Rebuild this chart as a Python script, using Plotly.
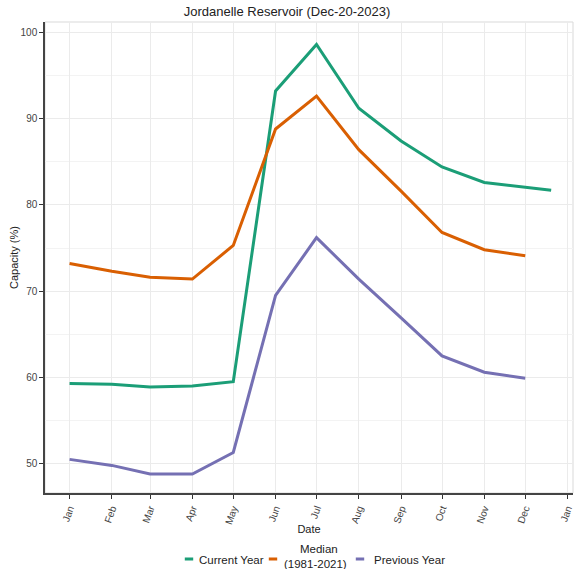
import plotly.graph_objects as go

title = "Jordanelle Reservoir (Dec-20-2023)"

current_dates = ["2023-01-01", "2023-02-01", "2023-03-01", "2023-04-01", "2023-05-01", "2023-06-01",
                 "2023-07-01", "2023-08-01", "2023-09-01", "2023-10-01", "2023-11-01", "2023-12-01",
                 "2023-12-20"]
current_vals = [59.3, 59.2, 58.9, 59.0, 59.5, 93.2, 98.6, 91.2, 87.4, 84.4, 82.6, 82.1, 81.7]

month_dates = ["2023-01-01", "2023-02-01", "2023-03-01", "2023-04-01", "2023-05-01", "2023-06-01",
               "2023-07-01", "2023-08-01", "2023-09-01", "2023-10-01", "2023-11-01", "2023-12-01"]
median_vals = [73.2, 72.3, 71.6, 71.4, 75.3, 88.8, 92.6, 86.4, 81.6, 76.8, 74.8, 74.1]
previous_vals = [50.5, 49.8, 48.8, 48.8, 51.3, 69.5, 76.2, 71.4, 66.9, 62.5, 60.6, 59.9]

names = ["Current Year", "&nbsp;&nbsp;&nbsp;&nbsp;&nbsp;Median<br>(1981-2021)", "Previous Year"]
colors = ["#1B9E77", "#D95F02", "#7570B3"]

# plot area in page pixels: x 45..573, y 22..493
L, R, T, B = 45, 573, 22, 493
def px_x(p):
    return (p - L) / (R - L)
def px_y(p):
    return (B - p) / (B - T)

# legend keys and legend texts are placed as separate small legends
key_left_px = [169, 253, 340]
key_mid_px = [559, 559, 559]
text_left_px = [159, 244, 334]
text_mid_px = [559, 556, 559]

fig = go.Figure()
legend_layout = {}
legend_common = dict(orientation="h", xanchor="left", yanchor="middle",
                     font=dict(size=11.5, color="#222222"), itemwidth=30,
                     bgcolor="rgba(0,0,0,0)", borderwidth=0)
series = [(current_dates, current_vals), (month_dates, median_vals), (month_dates, previous_vals)]
for i, ((xs, ys), nm, c) in enumerate(zip(series, names, colors)):
    fig.add_trace(go.Scatter(x=xs, y=ys, mode="lines", name=nm, showlegend=False,
                             line=dict(color=c, width=3)))
    key_id = "legend%d" % (2 * i + 1) if i > 0 else "legend"
    text_id = "legend%d" % (2 * i + 2)
    # legend key only
    fig.add_trace(go.Scatter(x=[None], y=[None], mode="markers", name="", showlegend=True,
                             legend=key_id,
                             marker=dict(symbol="line-ew-open", size=6, color=c,
                                         line=dict(color=c, width=3.2))))
    # legend label only
    fig.add_trace(go.Scatter(x=[None], y=[None], mode="markers", name=nm, showlegend=True,
                             legend=text_id,
                             marker=dict(size=1, color="rgba(0,0,0,0)")))
    legend_layout[key_id] = dict(x=px_x(key_left_px[i]), y=px_y(key_mid_px[i]), **legend_common)
    legend_layout[text_id] = dict(x=px_x(text_left_px[i]), y=px_y(text_mid_px[i]), **legend_common)

font = "Liberation Sans, Arial, sans-serif"
fig.update_layout(
    width=574, height=569,
    margin=dict(l=L, r=574 - R, t=T, b=569 - B, autoexpand=False),
    paper_bgcolor="white", plot_bgcolor="white",
    font=dict(family=font, color="#222222", size=11),
    title=dict(text=title, x=0.5, xanchor="center", y=0.979, yanchor="middle",
               font=dict(size=13, color="#222222")),
    showlegend=True,
    xaxis=dict(type="date", range=["2022-12-14", "2024-01-05"],
               tick0="2023-01-01", dtick="M1", tickformat="%b", tickangle=-70,
               ticklabeloverflow="allow",
               showgrid=True, gridcolor="#ebebeb", gridwidth=1,
               ticks="outside", ticklen=4, tickcolor="#333333",
               showline=True, linecolor="#444444", linewidth=1.5, mirror=False,
               tickfont=dict(size=10, color="#444444"),
               title=dict(text="Date", font=dict(size=11), standoff=0),
               zeroline=False, automargin=False),
    yaxis=dict(range=[46.6, 101.2], tickvals=[50, 60, 70, 80, 90, 100],
               showgrid=True, gridcolor="#ebebeb", gridwidth=1,
               minor=dict(tickvals=[55, 65, 75, 85, 95], showgrid=True, gridcolor="#f3f3f3", ticks=""),
               ticks="outside", ticklen=4, tickcolor="#333333",
               showline=True, linecolor="#444444", linewidth=1.5,
               tickfont=dict(size=10, color="#444444"),
               title=dict(text="Capacity (%)", font=dict(size=11), standoff=0),
               zeroline=False, automargin=False),
    **legend_layout,
)
# light panel border on top/right
fig.add_shape(type="rect", xref="paper", yref="paper", x0=0, y0=0, x1=1, y1=1,
              line=dict(color="#d9d9d9", width=1), layer="below")

fig.write_html("out.html", config={"displayModeBar": False},
               post_script="document.body.style.margin='0px';")
